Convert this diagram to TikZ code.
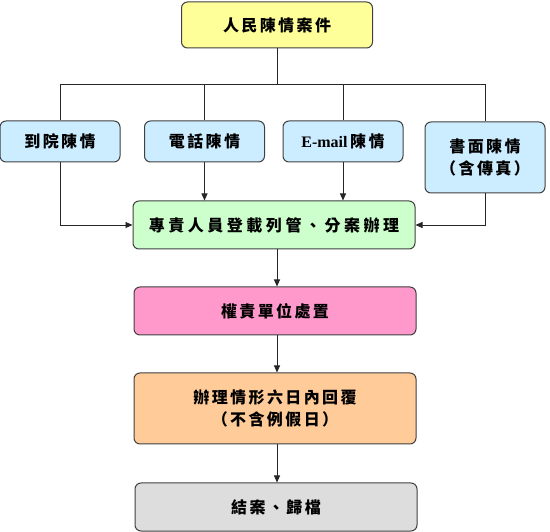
\documentclass[tikz,border=0pt]{standalone}
\usepackage{fontspec}
\usetikzlibrary{arrows.meta}
\setmainfont{Liberation Serif}
\newfontfamily\cjk{Noto Sans CJK TC}[LetterSpace=15]
\definecolor{boxyellow}{HTML}{FFFF99}
\definecolor{boxblue}{HTML}{CCECFF}
\definecolor{boxgreen}{HTML}{CCFFCC}
\definecolor{boxpink}{HTML}{FF99CC}
\definecolor{boxorange}{HTML}{FFCC99}
\definecolor{boxgray}{HTML}{DDDDDD}

\begin{document}
\begin{tikzpicture}[x=1pt,y=-1pt,
    box/.style={draw=black!75, line width=1pt, rounded corners=6pt, align=center, inner sep=0pt,
      font=\cjk\bfseries\fontsize{16}{22}\selectfont},
    source/.style={box, fill=boxblue, minimum width=120pt, minimum height=41pt},
    stage/.style={box, minimum width=282pt, minimum height=48pt},
    link/.style={draw=black!85, line width=0.9pt},
    arr/.style={link, -{Triangle[length=7pt,width=6pt]}}]
        \useasboundingbox (0,0) rectangle (550,532);
        \node[box, fill=boxyellow, minimum width=191pt, minimum height=46pt] at (277,25) (case) {人民陳情案件};
        \coordinate (bus) at (277,84.5);
        \node[source] at (60,141.5) (visit) {到院陳情};
        \node[source] at (204.5,141.5) (phone) {電話陳情};
        \node[source] at (343,141.5) (email) {{\rmfamily E-mail}\,陳情};
        \node[source, minimum height=71pt] at (485,157.5) (letter) {書面陳情\\（含傳真）};
        \node[stage, fill=boxgreen] at (274,225) (register) {\addfontfeatures{LetterSpace=22}專責人員登載列管、分案辦理};
        \node[stage, fill=boxpink] at (275,311) (unit) {權責單位處置};
        \node[stage, fill=boxorange, minimum height=71pt] at (275,408.5) (reply) {辦理情形六日內回覆\\（不含例假日）};
        \node[stage, fill=boxgray] at (276,507) (close) {結案、歸檔};
        \draw[link] (case.south) -- (bus);
        \draw[link] (visit.north) |- (bus) -| (letter.north);
        \draw[link] (phone.north) -- (phone.north |- bus);
        \draw[link] (email.north) -- (email.north |- bus);
        \draw[arr] (phone.south) -- (phone.south |- register.north);
        \draw[arr] (email.south) -- (email.south |- register.north);
        \draw[arr] (visit.south) |- (register.west);
        \draw[arr] (letter.south) |- (register.east);
        \draw[arr] (register.south -| bus) -- (unit.north -| bus);
        \draw[arr] (unit.south -| bus) -- (reply.north -| bus);
        \draw[arr] (reply.south -| bus) -- (close.north -| bus);
    \end{tikzpicture}
\end{document}
